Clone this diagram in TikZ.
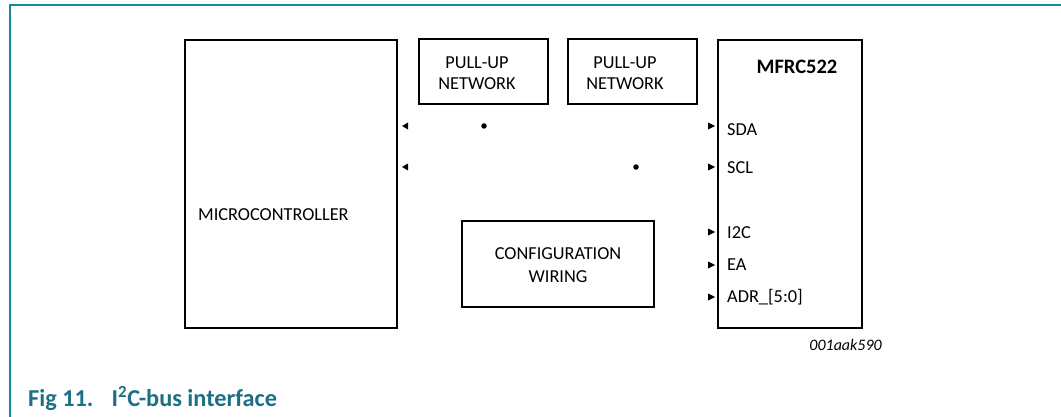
\documentclass[tikz,border=0pt]{standalone}
\usepackage{fontspec}
\setmainfont{Carlito}
\definecolor{frameteal}{HTML}{1A8797}
\definecolor{capteal}{HTML}{1B7085}
\tikzset{
  blk/.style={draw=black, line width=2.3pt, rectangle, inner sep=0pt},
  txt/.style={inner sep=0pt, font=\fontsize{18.3}{21.5}\selectfont, align=center},
  pin/.style={inner sep=0pt, anchor=west, font=\fontsize{18.3}{20}\selectfont},
  tipl/.style={fill=black, draw=none},
  dotc/.style={circle, fill=black, inner sep=0pt, minimum size=5.5pt}
}
\begin{document}
\begin{tikzpicture}[x=1pt, y=-1pt]
\useasboundingbox (0,0) rectangle (1061,417);
% frame
\draw[frameteal, line width=2pt] (10,417) -- (10,5) -- (1061,5);
% boxes
\node[blk, minimum width=212pt, minimum height=288pt] (mc) at (291,184) {};
\node[blk, minimum width=129pt, minimum height=65pt] (pu1) at (483.5,71.5) {};
\node[blk, minimum width=129pt, minimum height=65pt] (pu2) at (632.5,71.5) {};
\node[blk, minimum width=144pt, minimum height=288pt] (ic) at (790,184) {};
\node[blk, minimum width=192pt, minimum height=86pt] (cfg) at (558,264) {};
% texts
\node[txt, anchor=west] (mct) at (198,215) {MICROCONTROLLER};
\node[txt] (pu1t) at (477,73) {PULL-UP\\NETWORK};
\node[txt] (pu2t) at (625,73) {PULL-UP\\NETWORK};
\node[txt, font=\fontsize{18.3}{23}\selectfont] (cfgt) at (558,265) {CONFIGURATION\\WIRING};
\node[txt, font=\fontsize{20.5}{22}\selectfont\bfseries] (ict) at (797,67) {MFRC522};
\node[pin] (sda) at (727,130) {SDA};
\node[pin] (scl) at (727,168) {SCL};
\node[pin] (i2c) at (727,233) {I2C};
\node[pin] (ea) at (727,265) {EA};
\node[pin] (adr) at (727,297) {ADR\_[5:0]};
\node[inner sep=0pt, anchor=east, font=\fontsize{16}{18}\selectfont\itshape] (code) at (882,345) {001aak590};
% arrowheads at microcontroller
\coordinate (m1) at (402,126);
\coordinate (m2) at (402,167);
\fill[tipl] (m1) -- ++(6,-3.5) -- ++(0,7) -- cycle;
\fill[tipl] (m2) -- ++(6,-3.5) -- ++(0,7) -- cycle;
% arrowheads at MFRC522
\foreach \yy/\nm in {126/a1,167/a2,232/a3,265/a4,297/a5}{
  \coordinate (\nm) at (715,\yy);
  \fill[tipl] (\nm) -- ++(-7,-3.5) -- ++(0,7) -- cycle;
}
% junction dots
\node[dotc] (d1) at (484,126) {};
\node[dotc] (d2) at (636,167) {};
% caption
\node[inner sep=0pt, anchor=west, text=capteal, font=\fontsize{24.3}{27}\selectfont\bfseries] (cap) at (28,398) {Fig 11.\hspace{0.75em}I\textsuperscript{2}C-bus interface};
\end{tikzpicture}
\end{document}
